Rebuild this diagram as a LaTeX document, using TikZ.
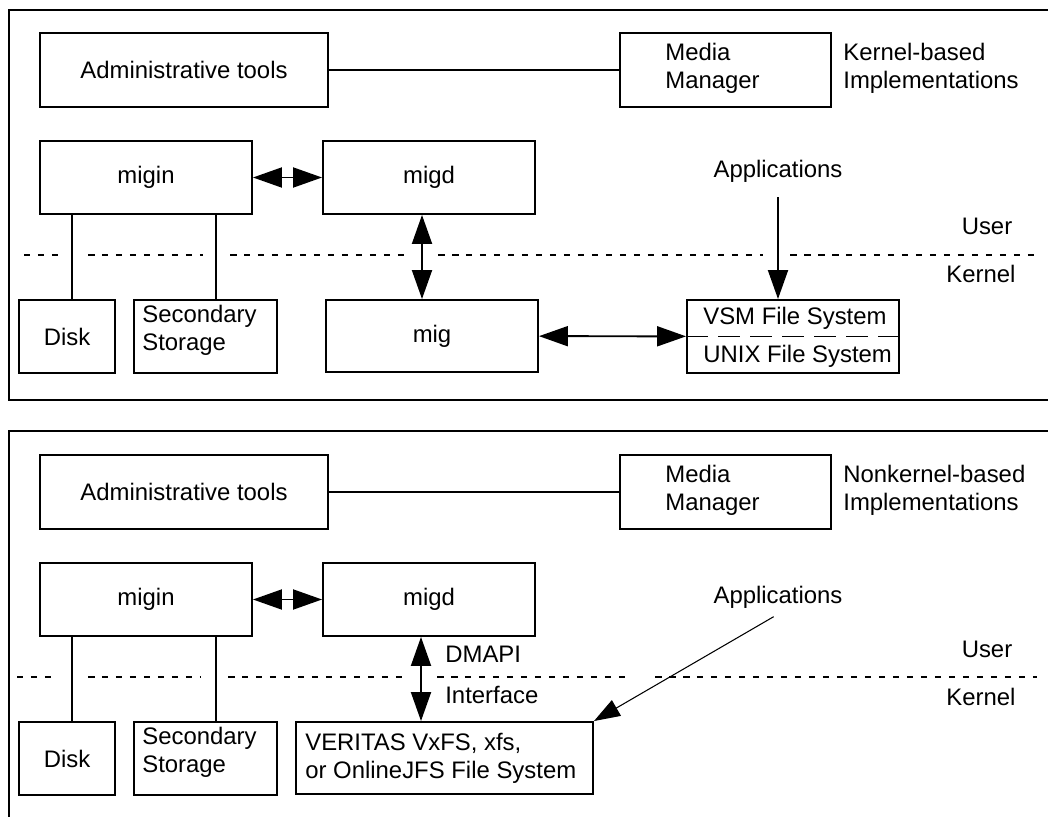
\documentclass[tikz,border=0pt]{standalone}
\usepackage{fontspec}
\setmainfont{Liberation Sans}
\usetikzlibrary{arrows.meta}

\begin{document}
\begin{tikzpicture}[x=0.02cm, y=-0.02cm,
    font=\fontsize{13.6}{15.9}\selectfont,
    frame/.style={line width=1.1pt},
    box/.style={draw, line width=1.1pt, inner sep=0pt},
    sz/.style 2 args={minimum width=#1*0.02cm, minimum height=#2*0.02cm},
    txt/.style={inner sep=0pt, align=left},
    arr/.style={line width=1.1pt, -{Triangle[length=0.58cm, width=0.4cm]}},
    dblarr/.style={line width=1.1pt, {Triangle[length=0.58cm, width=0.4cm]}-{Triangle[length=0.58cm, width=0.4cm]}},
    thinarr/.style={line width=0.6pt, -{Triangle[length=0.52cm, width=0.36cm]}},
    sep/.style={line width=1.1pt, dash pattern=on 0.13cm off 0.15cm}]
    \useasboundingbox (0,0) rectangle (1048,817);

    % Draw the two frames
    \draw[frame] (1048,10) -- (9,10) -- (9,400) -- (1048,400);
    \draw[frame] (1048,431) -- (9,431) -- (9,817);

    % Parts shared by both panels
    \foreach \n/\dy/\t in {1/0/Kernel-based, 2/422/Nonkernel-based} {
      \begin{scope}[shift={(0,\dy)}]
        \node[box, sz={288}{74}] (admin\n) at (184,70) {Administrative tools\hspace{0.2cm}};
        \node[box, sz={211}{74}] (media\n) at (725.5,70) {};
        \node[txt, anchor=north west] (mediatxt\n) at (665,43) {Media\\Manager};
        \node[txt, anchor=north west] (title\n) at (843,43) {\t\\Implementations};
        \node[box, sz={212}{73}] (migin\n) at (146,177.5) {migin\hspace{0.3cm}};
        \node[box, sz={212}{73}] (migd\n) at (429,177.5) {migd\hspace{0.3cm}};
        \node[box, sz={96}{73}] (disk\n) at (67,336.5) {Disk\hspace{0.1cm}};
        \node[box, sz={143}{73}] (store\n) at (205.5,336.5) {};
        \node[txt, anchor=north west] (storetxt\n) at (142,305) {Secondary\\Storage};
        \node[anchor=base] (user\n) at (987,235) {User};
        \node[anchor=base] (kernel\n) at (981,283) {Kernel};

        \draw[frame] (admin\n) -- (media\n);
        \draw[dblarr] (migin\n) -- (migd\n);
        \draw[frame] ([xshift=0.1cm]disk\n.north) -- ([xshift=0.1cm]disk\n.north |- migin\n.south);
        \draw[frame] ([xshift=0.21cm]store\n.north) -- ([xshift=0.21cm]store\n.north |- migin\n.south);
      \end{scope}
    }

    % User / kernel boundary
    \foreach \a/\b in {24/58, 88/203, 230/408, 438/763, 790/1037}
      \draw[sep] (\a,255) -- (\b,255);
    \foreach \a/\b in {17/57, 88/200, 228/407, 437/628, 655/1037}
      \draw[sep] (\a,677) -- (\b,677);

    % Kernel-based
    \node[box, sz={212}{72}] (mig) at (432,336) {mig\hspace{0.45cm}};
    \node[box, sz={212}{73}] (vsm) at (793,336.5) {};
    \node[txt, anchor=base west] (vsmtxt) at (703,325) {VSM File System};
    \node[txt, anchor=base west] (unixtxt) at (703,363) {UNIX File System};
    \draw[frame, dash pattern=on 0.44cm off 0.2cm] (vsm.west) -- (vsm.east);
    \node[anchor=base] (apps1) at (778,178) {Applications};
    \draw[arr, shorten <=0.16cm] (apps1.south) -- (apps1.south |- vsm.north);
    \draw[dblarr] ([xshift=-0.14cm]migd1.south) -- ([xshift=-0.14cm]migd1.south |- mig.north);
    \draw[dblarr] (mig) -- (vsm);

    % Nonkernel-based
    \node[box, sz={297}{72}] (vxfs) at (444.5,758) {};
    \node[txt, anchor=north west] (vxfstxt) at (305,733) {VERITAS VxFS, xfs,\\or OnlineJFS File System};
    \node[txt, anchor=base west] (dmapi) at (445,662) {DMAPI};
    \node[txt, anchor=base west] (iface) at (445,703) {Interface};
    \node[anchor=base] (apps2) at (778,603) {Applications};
    \draw[dblarr] ([xshift=-0.16cm]migd2.south) -- ([xshift=-0.16cm]migd2.south |- vxfs.north);
    \draw[thinarr, shorten <=0.1cm] (apps2.south) -- (vxfs.north east);
\end{tikzpicture}
\end{document}
